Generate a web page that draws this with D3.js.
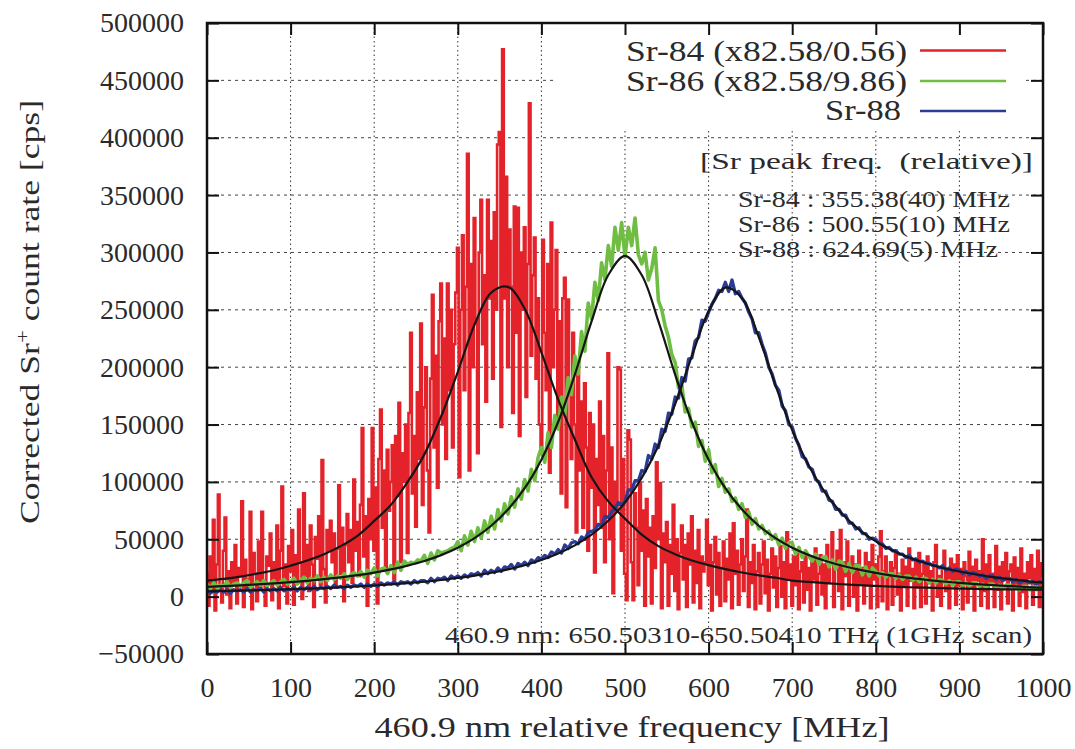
<!DOCTYPE html>
<html>
<head>
<meta charset="utf-8">
<script src="https://cdn.jsdelivr.net/npm/d3@7"></script>
<style>
  body { margin: 0; background: #fff; }
  svg text { font-family: "Liberation Serif", "DejaVu Serif", serif; fill: #2a2a2a; white-space: pre; }
</style>
</head>
<body>
<svg id="chart" width="1075" height="749"></svg>
<script>
// ---- data ----
// measured spectra, in 1000 cps
var sr84Step = 2   // MHz between points
var sr84 = [
  20,-8,35,5,67,-12,28,89,10,-5,40,69,2,22,-10,30,12,45,-6,25,18,83,-9,32,8,
  15,74,-11,38,20,-4,48,6,74,12,-8,35,27,55,-3,30,14,62,-10,40,96,9,28,-6,44,
  22,58,-7,36,12,76,30,-2,90,18,45,5,62,28,-9,52,33,70,10,119,24,-5,58,40,66,
  30,55,8,42,97,20,60,-4,45,72,30,58,12,102,40,65,18,80,147,35,70,-8,85,50,147,
  40,95,-6,120,163,60,110,25,128,75,100,132,15,140,88,169,30,125,100,150,38,160,230,90,140,
  61,178,120,238,80,165,200,110,56,190,263,130,210,95,240,273,150,225,120,273,180,250,130,220,265,
  304,104,250,315,180,270,386,110,290,200,330,240,125,300,346,220,280,170,346,260,310,190,335,250,394,
  405,148,477,260,366,200,320,270,160,340,230,339,140,300,250,322,174,290,430,210,280,313,190,260,150,
  125,311,230,180,290,108,326,200,250,302,150,240,90,260,278,78,259,180,120,230,150,56,200,110,170,
  60,186,130,40,160,95,150,21,120,80,170,60,140,30,110,212,50,130,3,100,75,200,198,40,120,
  20,-3,145,137,30,-3,90,60,10,99,40,75,-8,85,35,60,-6,70,25,117,50,99,-10,55,30,
  65,-8,45,20,80,5,50,-11,38,62,15,45,-9,55,28,70,-5,40,12,58,-10,35,22,30,67,
  10,45,-12,30,52,2,38,-8,25,48,-4,33,15,55,-10,64,20,40,-7,28,50,5,35,76,-9,
  30,12,45,-11,22,38,-6,28,48,3,32,-12,20,42,8,35,-9,25,44,0,30,-10,56,15,28,
  -8,35,10,40,-11,22,30,-5,38,6,25,-12,32,15,42,-7,20,36,2,28,-10,45,12,30,56,
  -9,25,40,5,58,-11,30,18,48,-8,22,35,0,28,-12,40,12,25,-6,38,10,30,-10,45,15,
  28,-9,35,57,-4,22,35,-11,18,30,-7,25,40,2,20,-12,32,10,26,-8,42,14,24,-10,30,
  8,38,-9,20,28,-6,35,12,22,-12,30,45,0,18,-8,26,40,5,22,-10,33,15,28,-7,36,
  10,24,-11,30,18,-5,39,8,26,-12,32,14,22,-8,50,5,28,-10,36,12,20,-9,44,6,26,
  -11,30,15,38,-6,22,28,-12,34,10,25,-8,42,4,20,-10,30,16,36,-7,24,12,40,-9,29,
  18
]

var sr86Step = 4
var sr86 = [
  11,7,12,8,10,9,13,8,11,12,9,12,14,8,11,13,10,14,9,12,14,10,13,15,11,
  13,16,11,14,17,12,16,14,18,13,17,14,19,15,18,16,20,15,19,21,18,22,17,23,20,
  25,18,24,25,20,27,21,30,23,31,28,30,29,32,31,36,29,38,32,40,38,39,40,42,43,
  48,40,53,45,57,48,60,51,66,56,70,59,76,66,81,72,87,78,94,85,102,92,111,101,121,
  130,117,143,130,158,146,174,158,191,176,210,194,231,214,256,242,274,258,291,276,306,288,322,302,326,
  296,322,306,330,298,290,300,276,286,304,258,250,236,226,211,204,182,184,161,164,148,152,131,136,118,
  128,108,115,96,103,91,94,83,86,76,81,69,74,63,68,59,62,55,57,50,54,45,51,42,47,
  47,37,43,34,40,35,31,37,28,34,35,26,32,24,31,30,22,29,21,27,27,19,26,18,25,
  22,18,21,17,20,20,16,19,15,18,18,14,17,13,16,16,12,15,12,15,14,11,14,10,13,
  13,10,12,9,12,12,9,11,8,11,11,8,10,7,10,10,7,9,6,9,9,6,9,6,8,
  7
]

var sr88Step = 4
var sr88 = [
  6,3,5,4,6,4,6,3,6,5,6,4,7,4,6,5,7,4,7,5,7,5,8,5,7,
  6,8,5,8,6,8,6,9,6,8,7,9,7,10,8,9,7,10,8,10,9,11,8,11,9,
  11,9,12,10,12,11,13,10,13,12,13,11,14,12,14,14,12,16,13,16,15,17,14,18,16,
  18,16,19,17,20,19,21,18,23,20,23,21,25,22,26,25,28,24,29,27,30,27,32,30,34,
  33,36,34,39,37,41,38,45,42,47,48,46,52,50,56,57,58,63,62,70,69,74,77,82,80,
  83,93,93,101,101,110,109,123,120,133,130,146,144,160,159,174,173,191,188,207,208,223,226,241,240,
  248,255,260,267,266,274,266,276,264,266,260,256,248,242,230,230,220,212,200,194,184,180,166,162,150,
  148,138,132,122,120,113,111,102,100,92,92,84,83,76,76,71,71,64,64,59,60,55,55,50,51,
  50,46,46,42,43,40,40,37,37,34,36,32,33,30,31,29,29,27,27,25,27,23,25,22,24,
  23,20,22,19,21,20,18,19,16,18,18,15,17,14,16,16,13,15,12,14,14,12,13,11,13,
  12
]

// fitted curves, 1000 cps every 20 MHz
var fitStep = 20
var fit84 = [14,15.5,17.5,20,23,27,31.5,37,44,53,66,80,100,124,157,196,237,265,270,251,
  213,172,137,104,83,68,54,44,37,31.5,27.5,24,21,18.5,16.5,14,12.8,11.7,10.8,10,
  9.3,8.7,8.2,7.8,7.4,7,6.7,6.5,6.3,6.2,6.1]
var fit86 = [8.5,9.2,9.9,10.7,11.6,12.6,13.8,15.2,16.8,18.7,21,23.7,27,31,36.2,42.7,51,61.8,75.9,94.5,
  119.4,152.2,193.5,239.9,280.3,297,280.3,239.9,193.5,152.2,119.4,94.5,75.9,61.8,51,42.7,36.2,31,26.9,23.5,
  20.7,18.3,16.3,14.7,13.2,12,10.9,10,9.2,8.4,7.8]
var fit88 = [4.6,4.9,5.2,5.6,6,6.5,7,7.5,8.2,8.9,9.7,10.7,11.8,13,14.5,16.3,18.3,20.8,23.8,27.4,
  31.9,37.6,44.7,54,66.1,82.1,103.5,131.8,167.8,209.6,248.7,269.4,260.1,226.3,184.2,145.2,113.9,90,72,58.5,
  48.2,40.2,34,29.1,25.1,21.9,19.3,17,15.2,13.6,12.3]

var xTicks = [0,100,200,300,400,500,600,700,800,900,1000]
var yTicks = [-50000,0,50000,100000,150000,200000,250000,300000,350000,400000,450000,500000]

var seriesNames = ["Sr-84 (x82.58/0.56)", "Sr-86 (x82.58/9.86)", "Sr-88"]
var seriesColors = ["#e3222a", "#6fbd43", "#2c3b94"]
var peakTitle = "[Sr peak freq.  (relative)]"
var peakLines = ["Sr-84 : 355.38(40) MHz", "Sr-86 : 500.55(10) MHz", "Sr-88 : 624.69(5) MHz"]
var scanNote = "460.9 nm: 650.50310-650.50410 THz (1GHz scan)"

// ---- chart ----
var svg = d3.select('#chart')
var plotL = 207, plotR = 1043, plotT = 23, plotB = 654

var x = d3.scaleLinear().domain([0, 1000]).range([plotL, plotR])
var y = d3.scaleLinear().domain([-50000, 500000]).range([plotB, plotT])

svg.append('rect').attr('width', 1075).attr('height', 749).attr('fill', '#fff')

svg.append('clipPath').attr('id', 'plot')
  .append('rect').attr('x', plotL).attr('y', plotT).attr('width', plotR - plotL).attr('height', plotB - plotT)

// grid
svg.append('g').selectAll('line')
  .data(yTicks.slice(1, -1))
  .enter().append('line')
  .attr('x1', plotL).attr('x2', plotR)
  .attr('y1', function(d){ return y(d) }).attr('y2', function(d){ return y(d) })
  .attr('stroke', '#444').attr('stroke-width', 1).attr('stroke-dasharray', '3,4')

svg.append('g').selectAll('line')
  .data(xTicks.slice(1, -1))
  .enter().append('line')
  .attr('x1', function(d){ return x(d) }).attr('x2', function(d){ return x(d) })
  .attr('y1', plotT).attr('y2', plotB)
  .attr('stroke', '#333').attr('stroke-width', 1).attr('stroke-dasharray', '1.5,3')

// key box hides the grid behind it
svg.append('rect').attr('x', 555).attr('y', plotT + 1).attr('width', 467).attr('height', 106).attr('fill', '#fff')

function lineFor(step){
  return d3.line()
    .x(function(d, i){ return x(i * step) })
    .y(function(d){ return y(d * 1000) })
}

var plot = svg.append('g').attr('clip-path', 'url(#plot)')
// red is drawn as steps so the dense scan fills in like the original
plot.append('path')
  .attr('d', lineFor(sr84Step).curve(d3.curveStep)(sr84))
  .attr('fill', 'none')
  .attr('stroke', seriesColors[0])
  .attr('stroke-width', 2.6)

var measured = [[sr86, sr86Step, 3.6], [sr88, sr88Step, 3.3]]
measured.forEach(function(m, k){
  plot.append('path')
    .attr('d', lineFor(m[1])(m[0]))
    .attr('fill', 'none')
    .attr('stroke', seriesColors[k + 1])
    .attr('stroke-width', m[2])
    .attr('stroke-linejoin', 'round')
})

;[fit84, fit86, fit88].forEach(function(f){
  plot.append('path')
    .attr('d', lineFor(fitStep).curve(d3.curveCatmullRom)(f))
    .attr('fill', 'none')
    .attr('stroke', '#151515')
    .attr('stroke-width', 2.2)
})

// axes, ticks pointing inward on all four sides
var fontSize = 28
svg.append('g').attr('transform', 'translate(' + plotL + ',0)')
  .call(d3.axisLeft(y).tickValues(yTicks).tickSize(-12).tickPadding(23).tickFormat(d3.format('d')))
svg.append('g').attr('transform', 'translate(0,' + plotB + ')')
  .call(d3.axisBottom(x).tickValues(xTicks).tickSize(-12).tickPadding(23).tickFormat(d3.format('d')))
svg.append('g').attr('transform', 'translate(0,' + plotT + ')')
  .call(d3.axisTop(x).tickValues(xTicks).tickSize(-12).tickFormat(''))
svg.append('g').attr('transform', 'translate(' + plotR + ',0)')
  .call(d3.axisRight(y).tickValues(yTicks).tickSize(-12).tickFormat(''))

svg.selectAll('.domain').remove()
svg.selectAll('.tick line').attr('stroke', '#111').attr('stroke-width', 2)
svg.selectAll('.tick text')
  .attr('font-family', '"Liberation Serif", serif')
  .attr('font-size', fontSize)
  .attr('fill', '#2a2a2a')

// frame
svg.append('rect')
  .attr('x', plotL).attr('y', plotT).attr('width', plotR - plotL).attr('height', plotB - plotT)
  .attr('fill', 'none').attr('stroke', '#111').attr('stroke-width', 2.5)

// axis titles
svg.append('text')
  .attr('x', 632).attr('y', 737)
  .attr('text-anchor', 'middle')
  .attr('font-size', 30)
  .attr('textLength', 515).attr('lengthAdjust', 'spacingAndGlyphs')
  .text('460.9 nm relative frequency [MHz]')

var yTitle = svg.append('text')
  .attr('transform', 'translate(39,312) rotate(-90)')
  .attr('text-anchor', 'middle')
  .attr('font-size', 28)
  .attr('textLength', 424).attr('lengthAdjust', 'spacingAndGlyphs')
yTitle.append('tspan').text('Corrected Sr')
yTitle.append('tspan').attr('baseline-shift', 'super').attr('font-size', 18).text('+')
yTitle.append('tspan').text(' count rate [cps]')

// key
var keyX = [626, 626, 825], keyLen = [281, 281, 76]
var keyBase = [61, 91, 120], keyLineY = [50.6, 81, 111]
seriesNames.forEach(function(name, k){
  svg.append('text')
    .attr('x', keyX[k]).attr('y', keyBase[k])
    .attr('font-size', 29)
    .attr('textLength', keyLen[k]).attr('lengthAdjust', 'spacingAndGlyphs')
    .text(name)
  svg.append('line')
    .attr('x1', 920).attr('x2', 1006)
    .attr('y1', keyLineY[k]).attr('y2', keyLineY[k])
    .attr('stroke', seriesColors[k]).attr('stroke-width', 2.5)
})

// peak frequency notes
svg.append('text')
  .attr('x', 700).attr('y', 169)
  .attr('font-size', 23)
  .attr('textLength', 333).attr('lengthAdjust', 'spacingAndGlyphs')
  .text(peakTitle)

var peakLen = [272, 272, 260], peakBase = [207, 232, 257]
peakLines.forEach(function(s, k){
  svg.append('text')
    .attr('x', 738).attr('y', peakBase[k])
    .attr('font-size', 23)
    .attr('textLength', peakLen[k]).attr('lengthAdjust', 'spacingAndGlyphs')
    .text(s)
})

svg.append('text')
  .attr('x', 445).attr('y', 643)
  .attr('font-size', 24)
  .attr('textLength', 587).attr('lengthAdjust', 'spacingAndGlyphs')
  .text(scanNote)
</script>
</body>
</html>
